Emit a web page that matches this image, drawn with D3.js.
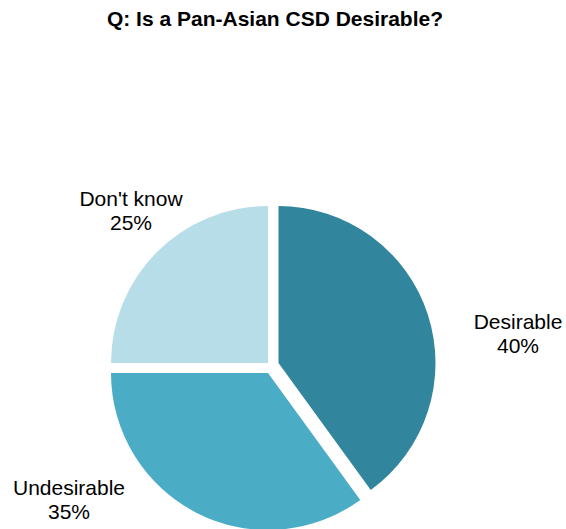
<!DOCTYPE html>
<html>
<head>
<meta charset="utf-8">
<script src="https://cdn.jsdelivr.net/npm/d3@7"></script>
<style>
  html, body { margin: 0; padding: 0; background: #ffffff; }
  svg { display: block; font-family: "Liberation Sans", Arial, Helvetica, sans-serif; }
</style>
</head>
<body>
<svg id="chart" width="566" height="529"></svg>
<script>
// Survey answers and their shares (percent)
const categories = ["Desirable", "Undesirable", "Don't know"];
const shares = [40, 35, 25];
const colors = ["#31859C", "#4BACC6", "#B7DEE8"];

// Per-slice separation from the pie centre (px) and label placement relative to it
const sliceShift = [[10.5, 0], [0, 10], [0, 0]];
const labelShift = [[250, -34], [-199, 132], [-137, -157]];

const width = 566, height = 529;
const cx = 268, cy = 363, radius = 157;

const svg = d3.select("#chart");

svg.append("text")
  .attr("x", 275)
  .attr("y", 26)
  .attr("text-anchor", "middle")
  .attr("font-weight", "bold")
  .attr("font-size", 21)
  .attr("fill", "#000")
  .text("Q: Is a Pan-Asian CSD Desirable?");

const data = categories.map((c, i) => ({ name: c, value: shares[i], i }));

const pie = d3.pie().value(d => d.value).sort(null);
const arc = d3.arc().innerRadius(0).outerRadius(radius);

const g = svg.append("g").attr("transform", `translate(${cx},${cy})`);

const arcs = pie(data);

g.selectAll("path.slice")
  .data(arcs)
  .join("path")
  .attr("class", "slice")
  .attr("transform", d => `translate(${sliceShift[d.data.i][0]},${sliceShift[d.data.i][1]})`)
  .attr("d", arc)
  .attr("fill", d => colors[d.data.i]);

const labels = g.selectAll("text.lbl")
  .data(arcs)
  .join("text")
  .attr("class", "lbl")
  .attr("text-anchor", "middle")
  .attr("font-size", 21)
  .attr("fill", "#000")
  .attr("transform", d => `translate(${labelShift[d.data.i][0]},${labelShift[d.data.i][1]})`);

labels.append("tspan")
  .attr("x", 0)
  .attr("dy", 0)
  .text(d => d.data.name);

labels.append("tspan")
  .attr("x", 0)
  .attr("dy", 24)
  .text(d => d.data.value + "%");
</script>
</body>
</html>
